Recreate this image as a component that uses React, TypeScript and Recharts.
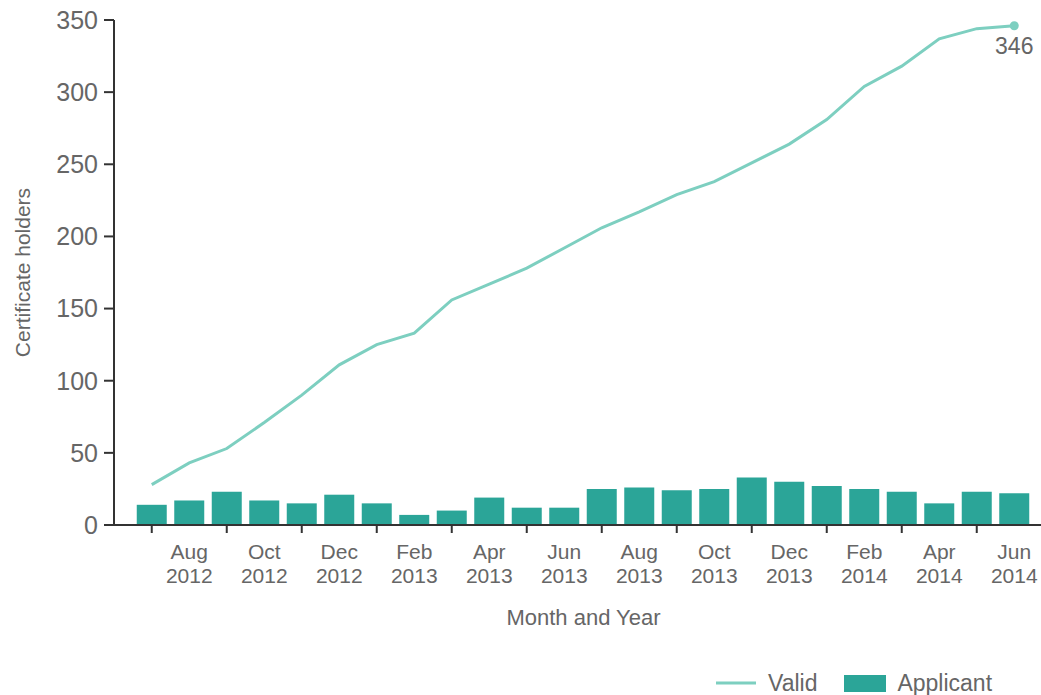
import { Bar, ComposedChart, Line, XAxis, YAxis } from "recharts";

const months = [
  "Jul 2012", "Aug 2012", "Sep 2012", "Oct 2012", "Nov 2012", "Dec 2012",
  "Jan 2013", "Feb 2013", "Mar 2013", "Apr 2013", "May 2013", "Jun 2013",
  "Jul 2013", "Aug 2013", "Sep 2013", "Oct 2013", "Nov 2013", "Dec 2013",
  "Jan 2014", "Feb 2014", "Mar 2014", "Apr 2014", "May 2014", "Jun 2014"
];
const valid = [28, 43, 53, 71, 90, 111, 125, 133, 156, 167, 178, 192, 206, 217, 229, 238, 251, 264, 281, 304, 318, 337, 344, 346];
const applicant = [14, 17, 23, 17, 15, 21, 15, 7, 10, 19, 12, 12, 25, 26, 24, 25, 33, 30, 27, 25, 23, 15, 23, 22];
const yTicks = [0, 50, 100, 150, 200, 250, 300, 350];

const LINE = "#7dcfc0";
const BAR = "#2ba598";
const TEXT = "#666";
const AXIS = "#333";
const FONT = "'Liberation Sans', Arial, sans-serif";

const data = months.map((m, i) => ({ month: m, valid: valid[i], applicant: applicant[i] }));
const last = data.length - 1;

function MonthTick(props: any) {
  const { x, y, index, payload } = props;
  if (index % 2 === 0) {
    return <line x1={x} x2={x} y1={y} y2={y + 8} stroke={AXIS} strokeWidth={2} />;
  }
  const [m, yr] = String(payload.value).split(" ");
  return (
    <g>
      <text x={x} y={y + 34} textAnchor="middle" fill={TEXT} fontSize={21} fontFamily={FONT}>{m}</text>
      <text x={x} y={y + 58} textAnchor="middle" fill={TEXT} fontSize={21} fontFamily={FONT}>{yr}</text>
    </g>
  );
}

function EndDot(props: any) {
  const { cx, cy, index } = props;
  if (index !== last) return <g key={`d${index}`} />;
  return <circle key={`d${index}`} cx={cx} cy={cy} r={4.5} fill={LINE} />;
}

function EndLabel(props: any) {
  const { x, y, index, value } = props;
  if (index !== last) return <g key={`l${index}`} />;
  return (
    <text key={`l${index}`} x={x} y={y + 28} textAnchor="middle" fill={TEXT} fontSize={23} fontFamily={FONT}>{value}</text>
  );
}

export default function App() {
  return (
    <div style={{ position: "absolute", left: 0, top: 0, width: 1041, height: 695, background: "#fff" }}>
      <ComposedChart
        width={1041}
        height={695}
        data={data}
        margin={{ top: 20, right: 0, left: 0, bottom: 60 }}
        barCategoryGap="10%"
      >
        <XAxis
          dataKey="month"
          interval={0}
          padding={{ left: 19, right: 8 }}
          height={110}
          tickLine={false}
          tickSize={0}
          tickMargin={0}
          tick={<MonthTick />}
          axisLine={{ stroke: AXIS, strokeWidth: 2 }}
          label={(p: any) => {
            const vb = p.viewBox;
            return (
              <text x={vb.x + vb.width / 2 + 6} y={625} textAnchor="middle" fill={TEXT} fontSize={22} fontFamily={FONT}>
                Month and Year
              </text>
            );
          }}
        />
        <YAxis
          width={114}
          domain={[0, 350]}
          ticks={yTicks}
          interval={0}
          tickSize={10}
          tickMargin={6}
          tick={{ fill: TEXT, fontSize: 25, fontFamily: FONT }}
          axisLine={{ stroke: AXIS, strokeWidth: 2 }}
          tickLine={{ stroke: AXIS, strokeWidth: 2 }}
          label={(p: any) => {
            const vb = p.viewBox;
            const cx = vb.x + 22;
            const cy = vb.y + vb.height / 2;
            return (
              <text x={cx} y={cy} transform={`rotate(-90 ${cx} ${cy})`} textAnchor="middle" dominantBaseline="central" fill={TEXT} fontSize={21} fontFamily={FONT}>
                Certificate holders
              </text>
            );
          }}
        />
        <Bar dataKey="applicant" fill={BAR} isAnimationActive={false} />
        <Line
          type="linear"
          dataKey="valid"
          stroke={LINE}
          strokeWidth={3}
          dot={<EndDot />}
          activeDot={false}
          label={<EndLabel />}
          isAnimationActive={false}
        />
      </ComposedChart>
      <div style={{ position: "absolute", left: 716, top: 668, height: 30, display: "flex", alignItems: "center", fontFamily: FONT, fontSize: 23, color: TEXT }}>
        <svg width={40} height={6} style={{ marginRight: 12 }}>
          <line x1={0} x2={40} y1={3} y2={3} stroke={LINE} strokeWidth={3} />
        </svg>
        <span style={{ marginRight: 27 }}>Valid</span>
        <svg width={42} height={17} style={{ marginRight: 11 }}>
          <rect x={0} y={0} width={42} height={17} fill={BAR} />
        </svg>
        <span>Applicant</span>
      </div>
    </div>
  );
}
